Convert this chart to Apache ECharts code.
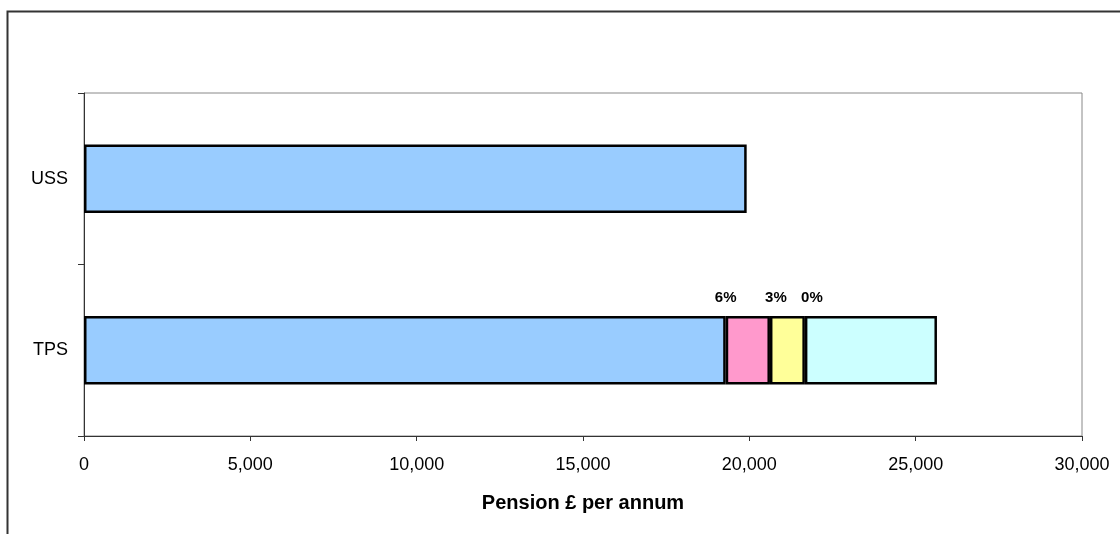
<!DOCTYPE html>
<html>
<head>
<meta charset="utf-8">
<script src="https://cdn.jsdelivr.net/npm/echarts@6/dist/echarts.min.js"></script>
<style>
  html, body { margin: 0; padding: 0; background: #fff; }
  #chart { width: 1120px; height: 534px; }
</style>
</head>
<body>
<div id="chart"></div>
<script>
// categories (bottom to top)
var schemes = ['TPS', 'USS'];
// pension segments, £ per annum
var basePension = [19290, 19920];
var seg6 = [1330, '-'];
var seg3 = [1050, '-'];
var seg0 = [3970, '-'];
var segLabels = ['6%', '3%', '0%'];
var xTicks = [0, 5000, 10000, 15000, 20000, 25000, 30000];

var myChart = echarts.init(document.getElementById('chart'));
var font = 'Liberation Sans, Arial, sans-serif';

function segSeries(name, data, color, label, dx) {
    return {
        name: name,
        type: 'bar',
        stack: 'p',
        barWidth: '40%',
        data: data,
        itemStyle: { color: color, borderColor: '#000', borderWidth: 2.5 },
        label: {
            show: true,
            formatter: function (p) { return p.dataIndex === 0 ? label : ''; },
            position: [dx, -18],
            align: 'center',
            verticalAlign: 'middle',
            fontFamily: font,
            fontWeight: 'bold',
            fontSize: 15,
            color: '#000'
        },
        silent: true
    };
}

var option = {
    animation: false,
    backgroundColor: '#fff',
    graphic: [{
        type: 'rect',
        left: 5, top: 9,
        shape: { width: 1200, height: 600 },
        style: { fill: 'none', stroke: '#333', lineWidth: 2 }
    }],
    grid: {
        left: 84, right: 38, top: 93, bottom: 98,
        show: true, borderColor: '#888', borderWidth: 1
    },
    xAxis: {
        type: 'value',
        min: 0, max: 30000, interval: 5000,
        name: 'Pension £ per annum',
        nameLocation: 'middle',
        nameGap: 57,
        nameTextStyle: { fontFamily: font, fontWeight: 'bold', fontSize: 20, color: '#000' },
        axisLine: { show: true, lineStyle: { color: '#333', width: 1 } },
        axisTick: { show: true, length: 5, lineStyle: { color: '#333' } },
        splitLine: { show: false },
        axisLabel: {
            margin: 20, fontFamily: font, fontSize: 18, color: '#000',
            formatter: function (v) { return xTicks.indexOf(v) >= 0 ? v.toLocaleString('en-GB') : ''; }
        }
    },
    yAxis: {
        type: 'category',
        data: schemes,
        axisLine: { show: true, lineStyle: { color: '#333', width: 1 } },
        axisTick: { show: true, length: 6, lineStyle: { color: '#333' } },
        axisLabel: { margin: 16, fontFamily: font, fontSize: 18, color: '#000' }
    },
    series: [
        {
            name: 'base',
            type: 'bar',
            stack: 'p',
            barWidth: '40%',
            data: basePension,
            itemStyle: { color: '#99CCFF', borderColor: '#000', borderWidth: 2.5 },
            silent: true
        },
        segSeries('6%', seg6, '#FF99CC', segLabels[0], 0),
        segSeries('3%', seg3, '#FFFF99', segLabels[1], 6),
        segSeries('0%', seg0, '#CCFFFF', segLabels[2], 7)
    ]
};
myChart.setOption(option);
</script>
</body>
</html>
